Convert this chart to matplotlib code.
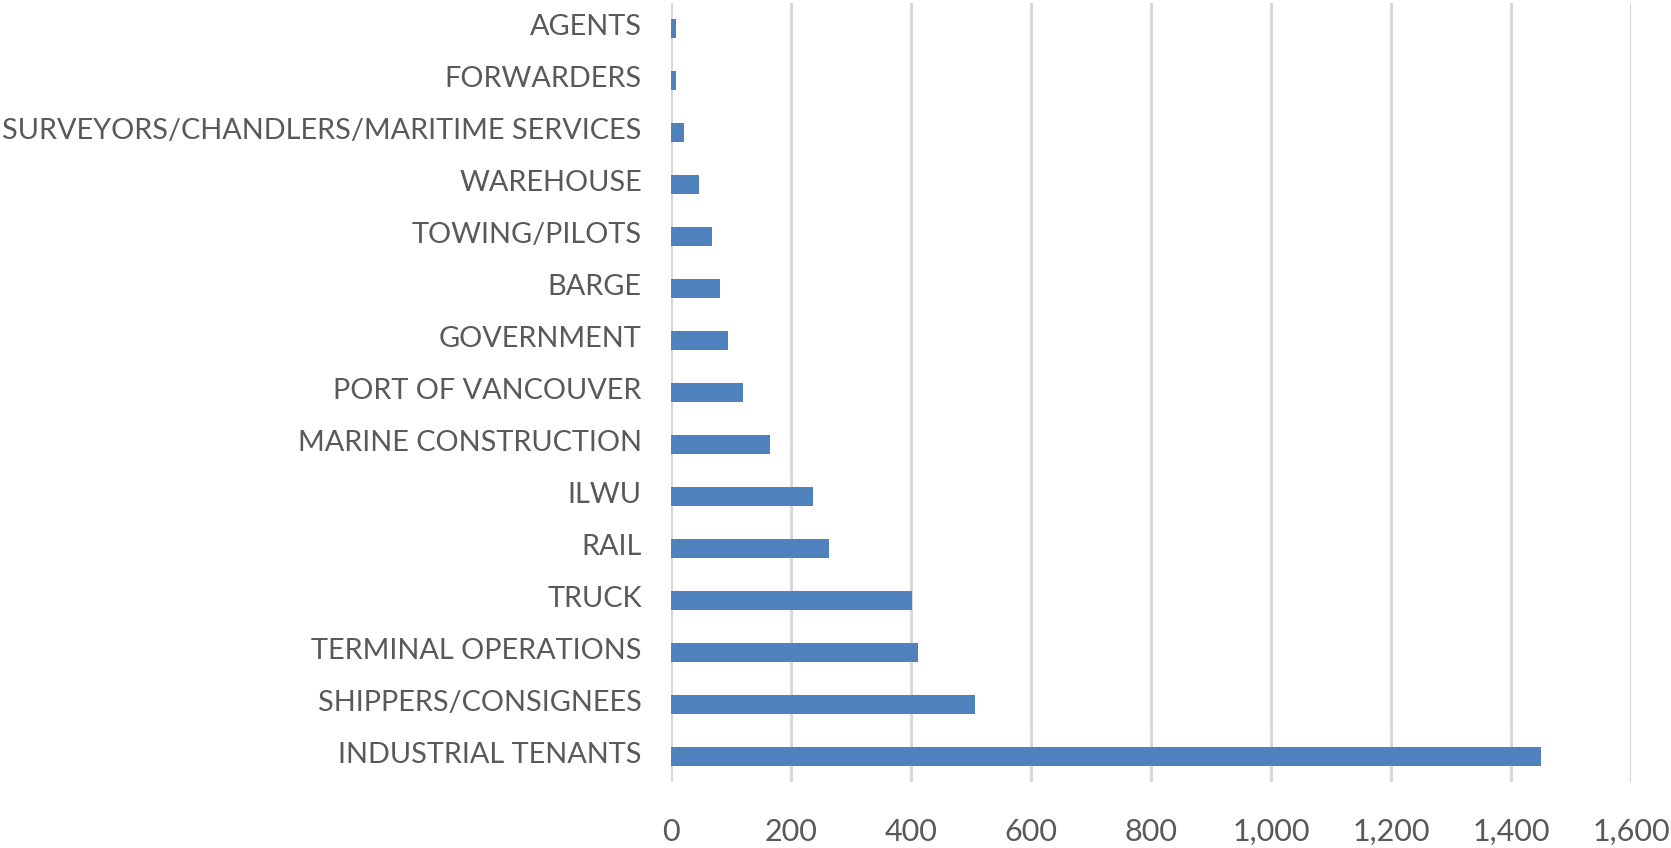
import numpy as np
import matplotlib.pyplot as plt
import matplotlib.transforms as mtransforms

categorias = ["AGENTS", "FORWARDERS", "SURVEYORS/CHANDLERS/MARITIME SERVICES",
              "WAREHOUSE", "TOWING/PILOTS", "BARGE", "GOVERNMENT",
              "PORT OF VANCOUVER", "MARINE CONSTRUCTION", "ILWU", "RAIL",
              "TRUCK", "TERMINAL OPERATIONS", "SHIPPERS/CONSIGNEES",
              "INDUSTRIAL TENANTS"]
valores = [8, 8, 22, 47, 68, 82, 95, 120, 165, 237, 263, 402, 412, 507, 1450]
ticks_x = [0, 200, 400, 600, 800, 1000, 1200, 1400, 1600]

plt.rcParams['font.family'] = ['Lato', 'DejaVu Sans']

fig = plt.figure(figsize=(16.71, 8.48), dpi=100)
ax = fig.add_axes([671 / 1671, 1 - 782 / 848, 960 / 1671, 779 / 848])

y = np.arange(len(categorias))
ax.barh(y, valores, height=0.365, color="#4f81bd", zorder=3)
ax.set_ylim(len(categorias) - 0.5, -0.5)
ax.set_xlim(0, 1600)
ax.set_yticks(y)
ax.set_yticklabels(categorias)
ax.set_xticks(ticks_x)
ax.set_xticklabels(["{:,}".format(t) for t in ticks_x])
ax.xaxis.grid(True, color="#d9d9d9", linewidth=2.2, zorder=0)
ax.tick_params(axis="both", length=0, labelcolor="#595959")
ax.tick_params(axis="x", pad=26, labelsize=22)
ax.tick_params(axis="y", pad=21, labelsize=20.8)
for s in ax.spines.values():
    s.set_visible(False)

# etiquetas del eje y un poco mas arriba que el centro de la barra
desplazamiento = mtransforms.ScaledTranslation(0, 0.04, fig.dpi_scale_trans)
for etiqueta in ax.get_yticklabels():
    etiqueta.set_transform(etiqueta.get_transform() + desplazamiento)

plt.savefig("out.png", dpi=100)
